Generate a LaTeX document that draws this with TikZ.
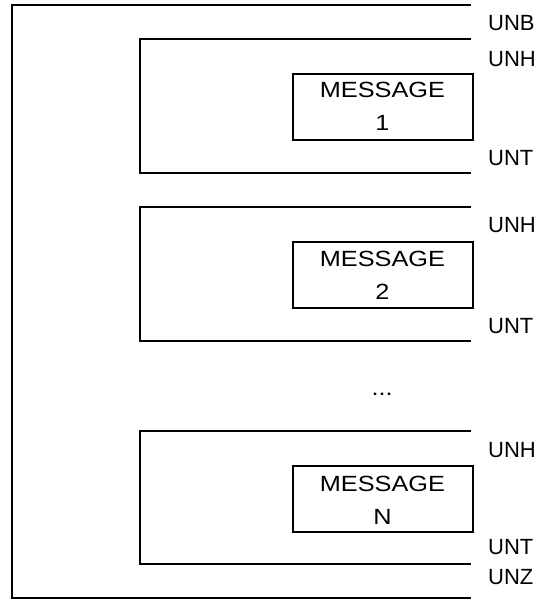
\documentclass[tikz,border=0pt]{standalone}
\usepackage{fontspec}
\setmainfont{Liberation Sans}
\newfontfamily\widesans[FakeStretch=1.15]{Liberation Sans}
\begin{document}
\begin{tikzpicture}[x={(1pt,0)},y={(0,-1pt)},
  bracket/.style={line width=2pt,line join=miter},
  msgbox/.style={draw,line width=2pt,minimum width=180pt,minimum height=65.5pt,inner sep=0pt,anchor=north west},
  msgtxt/.style={anchor=base,inner sep=0pt,font=\widesans\fontsize{22pt}{26pt}\selectfont},
  seglabel/.style={anchor=base west,inner sep=0pt,font=\fontsize{22pt}{26pt}\selectfont}]
\useasboundingbox (0,0) rectangle (553,599);
% interchange (outer bracket)
\draw[bracket] (471,5) -- (11.7,5) -- (11.7,597.6) -- (471,597.6);
% message groups
\draw[bracket] (471,39) -- (140,39) -- (140,172.7) -- (471,172.7);
\draw[bracket] (471,206.7) -- (140,206.7) -- (140,340.7) -- (471,340.7);
\draw[bracket] (471,431) -- (140,431) -- (140,564.3) -- (471,564.3);
% message boxes
\node[msgbox] (m1) at (292.3,73.3) {};
\node[msgbox] (m2) at (292.3,241) {};
\node[msgbox] (mN) at (292.3,465.2) {};
\node[msgtxt] (m1a) at (382.4,98) {MESSAGE};
\node[msgtxt] (m1b) at (382.4,131) {1};
\node[msgtxt] (m2a) at (382.4,266.5) {MESSAGE};
\node[msgtxt] (m2b) at (382.4,299.5) {2};
\node[msgtxt] (mNa) at (382.4,491) {MESSAGE};
\node[msgtxt] (mNb) at (382.4,524) {N};
\node[msgtxt] (dots) at (382.2,395) {...};
% segment labels
\node[seglabel] (unb) at (488,31) {UNB};
\node[seglabel] (unh1) at (488,66.7) {UNH};
\node[seglabel] (unt1) at (488,165) {UNT};
\node[seglabel] (unh2) at (488,232.7) {UNH};
\node[seglabel] (unt2) at (488,333.5) {UNT};
\node[seglabel] (unhN) at (488,457.3) {UNH};
\node[seglabel] (untN) at (488,554) {UNT};
\node[seglabel] (unz) at (488,584) {UNZ};
\end{tikzpicture}
\end{document}
